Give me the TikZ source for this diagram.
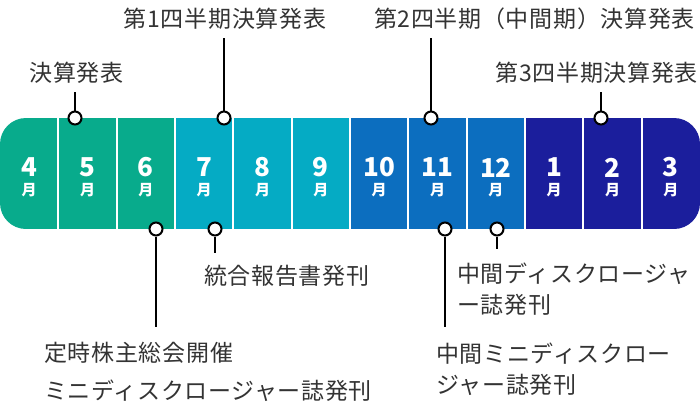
\documentclass[tikz,border=0pt]{standalone}
\usepackage{fontspec}
\newfontfamily\jp{Noto Sans CJK JP}
\newfontfamily\jplbl[LetterSpace=3]{Noto Sans CJK JP}
\usetikzlibrary{positioning,calc}
\definecolor{kgreen}{HTML}{08AB8C}
\definecolor{kcyan}{HTML}{05ABC4}
\definecolor{kblue}{HTML}{0C6EBF}
\definecolor{knavy}{HTML}{1B1E9C}
\definecolor{ktext}{HTML}{333333}

\begin{document}
\begin{tikzpicture}[x=1pt,y=-1pt,
  cell/.style={minimum width=58.34pt,minimum height=111pt,inner sep=0pt,outer sep=0pt},
  num/.style={text=white,font=\jp\bfseries\fontsize{26}{26}\selectfont,inner sep=0pt},
  unit/.style={text=white,font=\jp\bfseries\fontsize{15}{15}\selectfont,inner sep=0pt},
  dot/.style={circle,draw=black,fill=white,line width=2pt,minimum size=13pt,inner sep=0pt},
  lead/.style={draw=black,line width=2pt},
  sep/.style={draw=white,line width=2pt},
  lbl/.style={text=ktext,font=\jplbl\fontsize{23}{31}\selectfont,inner sep=0pt,align=left}
]
\useasboundingbox (0,0) rectangle (700,404);
\begin{scope}
  \clip[rounded corners=26pt] (0,118) rectangle (700,229);
  \foreach \m/\c [count=\i from 0] in {4/kgreen,5/kgreen,6/kgreen,7/kcyan,8/kcyan,9/kcyan,
      10/kblue,11/kblue,12/kblue,1/knavy,2/knavy,3/knavy}
    \node[cell,fill=\c] (m\m) at ({58.333*\i+29.17},173.5) {};
\end{scope}
\foreach \m in {4,...,12,1,2}
  \draw[sep] (m\m.north east) -- (m\m.south east);
\foreach \m in {4,...,12,1,2,3} {
  \node[num] (n\m) at ($(m\m.center)+(0,-6)$) {\m};
  \node[unit] (u\m) at ($(m\m.center)+(0,16.5)$) {月};
}

\node[dot] (c5) at (75,118) {};
\node[dot] (c7t) at (224,118) {};
\node[dot] (c11t) at (431,118) {};
\node[dot] (c2) at (601,118) {};
\node[dot] (c6) at (156,229) {};
\node[dot] (c7b) at (215,229) {};
\node[dot] (c11b) at (445,229) {};
\node[dot] (c12) at (497,229) {};

\coordinate (e5) at (75,92);
\coordinate (e7t) at (224,38);
\coordinate (e11t) at (431,38);
\coordinate (e2) at (601,92);
\coordinate (e6) at (156,327);
\coordinate (e7b) at (215,253);
\coordinate (e11b) at (445,327);
\coordinate (e12) at (497,249);
\foreach \k in {5,7t,11t,2,6,7b,11b,12}
  \draw[lead] (c\k) -- (e\k);

\node[lbl,anchor=north] (l5) at (76.5,62) {決算発表};
\node[lbl,anchor=north] (l7t) at (225,8) {第1四半期決算発表};
\node[lbl,anchor=north east] (l11t) at (695,8) {第2四半期（中間期）決算発表};
\node[lbl,anchor=north east] (l2) at (698,62) {第3四半期決算発表};
\node[lbl,anchor=north west] (l6) at (44,342) {定時株主総会開催\\[7pt]ミニディスクロージャー誌発刊};
\node[lbl,anchor=north west] (l7b) at (204,265) {統合報告書発刊};
\node[lbl,anchor=north west] (l12) at (457,263) {中間ディスクロージャ\\ー誌発刊};
\node[lbl,anchor=north west] (l11b) at (436,343) {中間ミニディスクロー\\ジャー誌発刊};
\end{tikzpicture}
\end{document}
